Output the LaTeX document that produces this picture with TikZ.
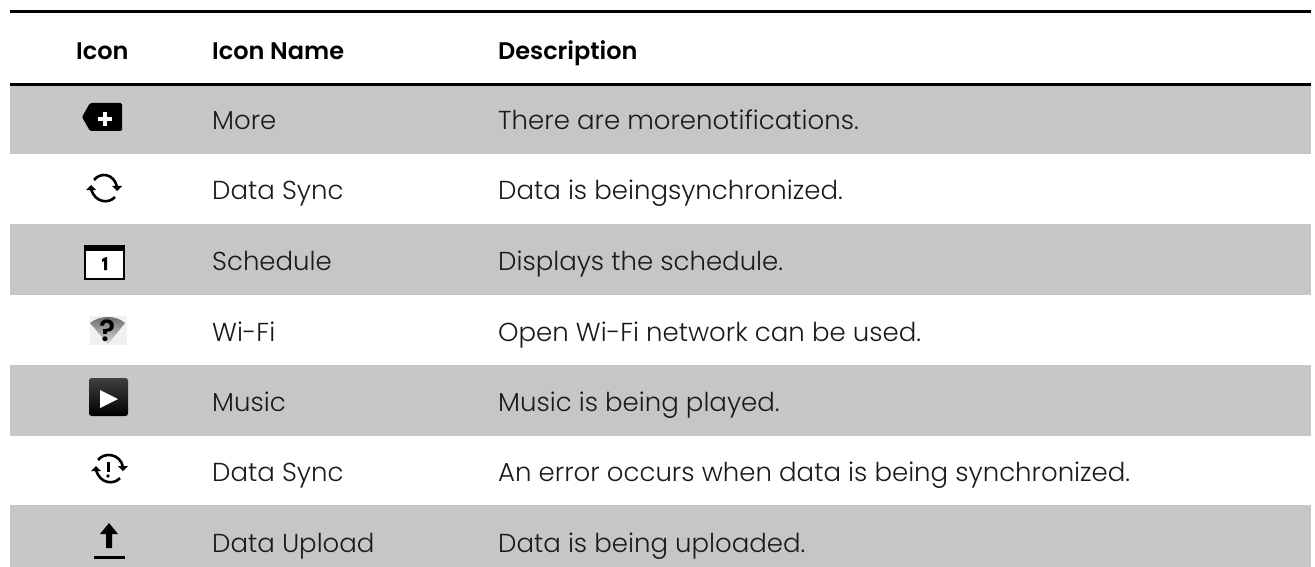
\documentclass[tikz,border=0pt]{standalone}
\usepackage{fontspec}
\setmainfont{Poppins}[UprightFont=* Light,BoldFont=* SemiBold]
\definecolor{rowgray}{HTML}{C6C6C6}
\definecolor{patchgray}{HTML}{C9C6C6}
\definecolor{ink}{HTML}{1A1A1A}
\definecolor{wifipatch}{HTML}{F0F0F0}
\tikzset{
  cell/.style={anchor=base west,inner sep=0pt,font=\fontsize{26}{30}\selectfont,text=ink},
  head/.style={anchor=base west,inner sep=0pt,font=\fontsize{24}{28}\selectfont\bfseries,text=black},
  rule/.style={line width=3pt,black},
  band/.style={fill=rowgray,draw=none},
  patch/.style={fill=patchgray,draw=none},
  syncarc/.style={line width=2.6pt,black},
}
\begin{document}
\begin{tikzpicture}[x=1pt,y=-1pt]
\useasboundingbox (0,0) rectangle (1315,567);
\fill[white] (0,0) rectangle (1315,567);
% bands
\fill[band] (10,86) rectangle (1311,154);
\fill[band] (10,224) rectangle (1311,295);
\fill[band] (10,365) rectangle (1311,436);
\fill[band] (10,505) rectangle (1311,567);
% rules
\draw[rule] (10,11.5) -- (1311,11.5);
\draw[rule] (10,84.5) -- (1311,84.5);
% header
\node[head] (h1) at (76,59.5) {Icon};
\node[head] (h2) at (212,59.5) {Icon Name};
\node[head] (h3) at (498,59.5) {Description};
% rows
\node[cell] (n1) at (212,130) {More};
\node[cell] (d1) at (498,130) {There are morenotifications.};
\node[cell] (n2) at (212,200) {Data Sync};
\node[cell] (d2) at (498,200) {Data is beingsynchronized.};
\node[cell] (n3) at (212,270.5) {Schedule};
\node[cell] (d3) at (498,270.5) {Displays the schedule.};
\node[cell] (n4) at (212,341.5) {Wi-Fi};
\node[cell] (d4) at (498,341.5) {Open Wi-Fi network can be used.};
\node[cell] (n5) at (212,411.5) {Music};
\node[cell] (d5) at (498,411.5) {Music is being played.};
\node[cell] (n6) at (212,481) {Data Sync};
\node[cell] (d6) at (498,481) {An error occurs when data is being synchronized.};
\node[cell] (n7) at (212,552) {Data Upload};
\node[cell] (d7) at (498,552) {Data is being uploaded.};
% icon: more
\fill[patch] (70,90) rectangle (133,146);
\fill[black,rounded corners=1.5pt] (82,117) -- (90,103) -- (122,103) -- (122,131) -- (90,131) -- cycle;
\fill[white] (103.2,112) rectangle (106.8,126);
\fill[white] (98,117.2) rectangle (112,120.8);
% icon: data sync
\draw[syncarc] (94,180) .. controls (100,172) and (114,173) .. (117,187);
\fill[black] (112,186) -- (122,186) -- (117,191) -- cycle;
\draw[syncarc] (115,197) .. controls (109,204) and (95,203) .. (91,189);
\fill[black] (86,190) -- (96,190) -- (91,185) -- cycle;
% icon: schedule
\fill[patch] (70,228) rectangle (146,295);
\fill[white] (85,247) rectangle (124,279);
\draw[black,line width=2pt] (85,247) rectangle (124,279);
\fill[black] (84,245) rectangle (125,251);
\fill[black] (102,259) -- (106,257) -- (107,257) -- (107,270) -- (104,270) -- (104,261) -- (102,262) -- cycle;
% icon: wi-fi
\fill[wifipatch] (90,316) rectangle (127,345);
\shade[top color=black!60,bottom color=black!15] (90,323) .. controls (100,315) and (116,315) .. (125,323) -- (108,344) -- cycle;
\node[inner sep=0pt,font=\fontsize{30}{32}\selectfont\bfseries,text=black] (wifiq) at (108,331) {?};
% icon: music
\fill[patch] (72,365) rectangle (149,435);
\shade[top color=black!75,bottom color=black,rounded corners=2.5pt] (89,378) rectangle (128,416);
\fill[white] (100,390) -- (118,399) -- (100,408) -- cycle;
% icon: data sync error
\draw[syncarc] (98,460) .. controls (104,452) and (120,453) .. (123,467);
\fill[black] (118,466) -- (128,466) -- (123,471) -- cycle;
\draw[syncarc] (120,478) .. controls (114,485) and (100,484) .. (96,470);
\fill[black] (91,471) -- (101,471) -- (96,466) -- cycle;
\fill[black] (106.5,462) rectangle (109.5,472);
\fill[black] (108,476) circle (1.8);
% icon: upload
\fill[patch] (82,515) rectangle (135,567);
\fill[black] (109,523) -- (118,534) -- (112,534) -- (112,548) -- (106,548) -- (106,534) -- (100,534) -- cycle;
\fill[black] (94,556) rectangle (125,558.5);
\end{tikzpicture}
\end{document}
